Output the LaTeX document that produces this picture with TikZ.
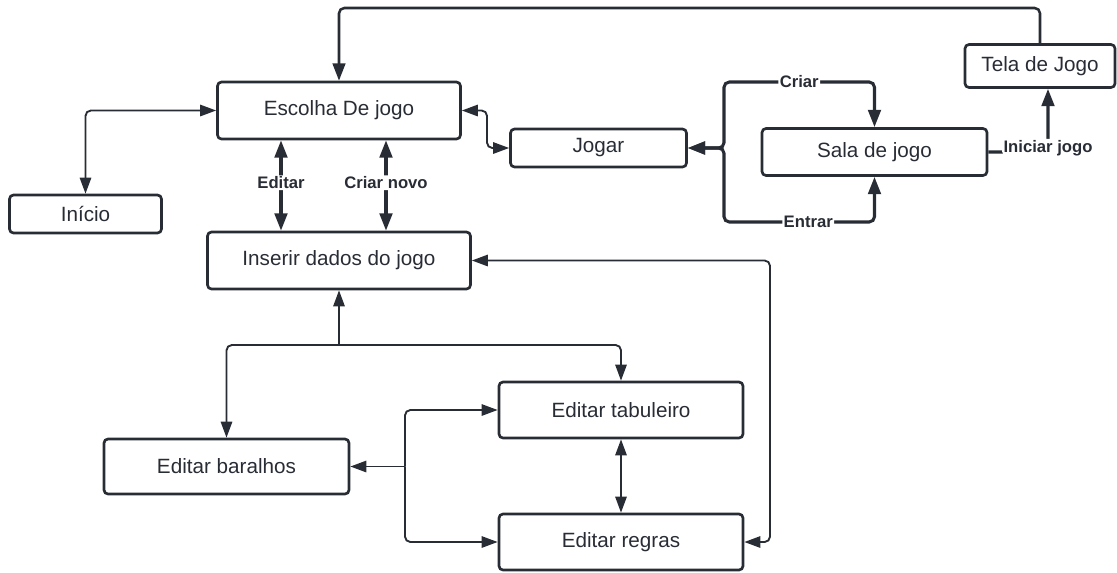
\documentclass[tikz,border=0pt]{standalone}
\usepackage{fontspec}
\setmainfont{Liberation Sans}
\usetikzlibrary{arrows.meta}
\definecolor{dk}{RGB}{40,44,52}
\begin{document}
\begin{tikzpicture}[x=0.75pt,y=-0.75pt,
  box/.style={draw=dk,line width=2pt,rounded corners=3pt,text=dk,
    font=\fontsize{15.5}{18}\selectfont,inner sep=0pt},
  lab/.style={fill=white,text=dk,font=\bfseries\fontsize{12.5}{14}\selectfont,inner sep=1pt},
  thintip/.style={arrows={-Triangle[length=12pt,width=8.5pt]}},
  thinc/.style={draw=dk,line width=1.4pt,rounded corners=4pt,
    arrows={Triangle[length=12pt,width=8.5pt]-Triangle[length=12pt,width=8.5pt]}},
  thickc/.style={draw=dk,line width=2.3pt,rounded corners=4pt,
    arrows={Triangle[length=13pt,width=9.5pt]-Triangle[length=13pt,width=9.5pt]}},
  medc/.style={draw=dk,line width=1.9pt,rounded corners=4pt,
    arrows={-Triangle[length=13pt,width=9.5pt]}}]
\useasboundingbox (0,0) rectangle (1117,572);
% nodes
\node[box,minimum width=182.25pt,minimum height=42.75pt] (esc) at (339,110.5) {Escolha De jogo};
\node[box,minimum width=114pt,minimum height=28.5pt] (ini) at (85.5,214) {Início};
\node[box,minimum width=197.25pt,minimum height=42.75pt] (ins) at (339,260.5) {Inserir dados do jogo};
\node[box,minimum width=132pt,minimum height=28.5pt] (jog) at (598.5,148) {\raisebox{-3pt}{Jogar}};
\node[box,minimum width=168.75pt,minimum height=35.25pt] (sala) at (874.5,152) {Sala de jogo};
\node[box,minimum width=112.5pt,minimum height=32.25pt] (tela) at (1040,66) {Tela de Jogo};
\node[box,minimum width=183pt,minimum height=42pt] (tab) at (621,410) {Editar tabuleiro};
\node[box,minimum width=183.75pt,minimum height=41.25pt] (bar) at (226.5,466.5) {Editar baralhos};
\node[box,minimum width=183pt,minimum height=42pt] (reg) at (621,542) {Editar regras};
% helper coordinates
\coordinate (top) at (0,8);
\coordinate (cEd) at (281,0);
\coordinate (cCn) at (386,0);
\coordinate (cJ) at (487,0);
\coordinate (fk) at (724,148);
\coordinate (cr) at (0,82);
\coordinate (en) at (0,222);
\coordinate (cIn) at (1048,0);
\coordinate (cR) at (770,0);
\coordinate (fk2) at (339,345);
\coordinate (fk3) at (405,466.5);
% connectors
\draw[medc] (tela.north) -- (tela.north |- top) -| (esc.north);
\draw[thinc] (ini.north) |- (esc.west);
\draw[thinc] (esc.east) -- (esc.east -| cJ) -- (jog.west -| cJ) -- (jog.west);
\draw[thickc] (esc.south -| cEd) -- node[lab,pos=0.47] {Editar} (ins.north -| cEd);
\draw[thickc] (esc.south -| cCn) -- node[lab,pos=0.47] {Criar novo} (ins.north -| cCn);
\draw[thickc] (jog.east) -- (fk) -- (fk |- cr) -| node[lab,pos=0.25] {Criar} (sala.north);
\draw[thickc] (jog.east) -- (fk) -- (fk |- en) -| node[lab,pos=0.28] {Entrar} (sala.south);
\draw[thickc,arrows={-Triangle[length=13pt,width=9.5pt]}] (sala.east) -| node[lab,pos=0.5,yshift=3pt] {Iniciar jogo} (tela.south -| cIn);
\draw[thinc] (ins.east) -- (ins.east -| cR) -- (reg.east -| cR) -- (reg.east);
\draw[thinc,thintip] (fk2) -- (ins.south);
\draw[thinc,thintip] (fk2) -| (bar.north);
\draw[thinc,thintip] (fk2) -| (tab.north);
\draw[thinc,thintip] (fk3) -- (bar.east);
\draw[thinc,thintip] (fk3) |- (tab.west);
\draw[thinc,thintip] (fk3) |- (reg.west);
\draw[thinc] (tab.south) -- (reg.north);
\end{tikzpicture}
\end{document}
